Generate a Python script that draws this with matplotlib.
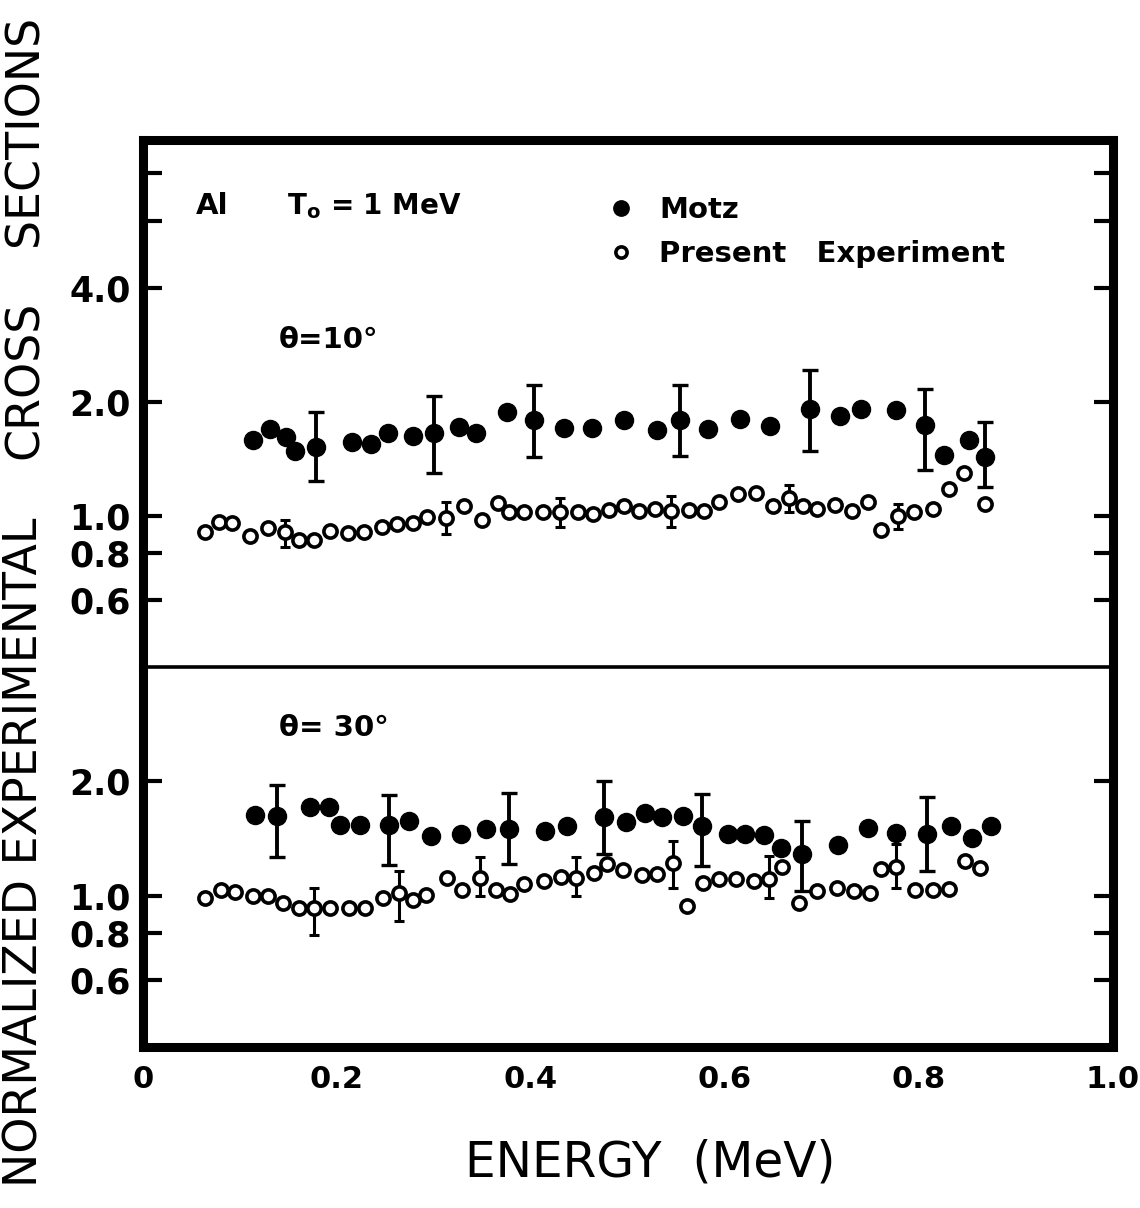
import matplotlib
matplotlib.use('Agg')
import matplotlib.pyplot as plt
import numpy as np
from matplotlib.ticker import FixedLocator, FixedFormatter, NullLocator

# ---- theta = 10 deg ----
e10_motz = [0.113, 0.131, 0.147, 0.157, 0.178, 0.216, 0.235, 0.253, 0.278, 0.300,
            0.326, 0.343, 0.375, 0.403, 0.434, 0.463, 0.496, 0.530, 0.554, 0.583,
            0.615, 0.646, 0.688, 0.719, 0.740, 0.776, 0.806, 0.826, 0.852, 0.868]
v10_motz = [1.59, 1.70, 1.62, 1.48, 1.52, 1.57, 1.55, 1.655, 1.63, 1.655,
            1.715, 1.655, 1.88, 1.79, 1.71, 1.71, 1.79, 1.69, 1.79, 1.70,
            1.80, 1.73, 1.92, 1.84, 1.92, 1.90, 1.74, 1.45, 1.59, 1.43]
err10_motz_idx = [4, 9, 13, 18, 22, 26, 29]
err10_motz_lo = [1.235, 1.30, 1.43, 1.44, 1.48, 1.32, 1.19]
err10_motz_hi = [1.88, 2.07, 2.21, 2.21, 2.42, 2.16, 1.77]

e10_pres = [0.064, 0.078, 0.092, 0.110, 0.129, 0.146, 0.161, 0.176, 0.193, 0.211,
            0.228, 0.246, 0.262, 0.278, 0.293, 0.312, 0.331, 0.350, 0.366, 0.377,
            0.393, 0.412, 0.430, 0.448, 0.464, 0.480, 0.496, 0.511, 0.528, 0.544,
            0.563, 0.578, 0.594, 0.613, 0.632, 0.649, 0.666, 0.680, 0.695, 0.713,
            0.731, 0.747, 0.761, 0.778, 0.795, 0.814, 0.831, 0.846, 0.868]
v10_pres = [0.910, 0.966, 0.959, 0.888, 0.929, 0.906, 0.867, 0.867, 0.915, 0.901,
            0.906, 0.934, 0.953, 0.959, 0.996, 0.986, 1.060, 0.978, 1.081, 1.026,
            1.026, 1.026, 1.022, 1.026, 1.015, 1.039, 1.060, 1.032, 1.047, 1.032,
            1.039, 1.032, 1.086, 1.142, 1.149, 1.064, 1.113, 1.064, 1.043, 1.069,
            1.032, 1.090, 0.921, 1.002, 1.026, 1.047, 1.177, 1.296, 1.075]
err10_pres_idx = [5, 15, 22, 29, 36, 43]
err10_pres_lo = [0.828, 0.897, 0.934, 0.937, 1.026, 0.925]
err10_pres_hi = [0.978, 1.086, 1.119, 1.130, 1.205, 1.075]

# ---- theta = 30 deg ----
e30_motz = [0.115, 0.138, 0.172, 0.192, 0.203, 0.224, 0.254, 0.274, 0.297, 0.328,
            0.354, 0.377, 0.414, 0.437, 0.475, 0.498, 0.518, 0.535, 0.557, 0.576,
            0.603, 0.621, 0.640, 0.658, 0.679, 0.717, 0.747, 0.776, 0.808, 0.833,
            0.855, 0.874]
v30_motz = [1.63, 1.62, 1.71, 1.71, 1.534, 1.534, 1.534, 1.578, 1.435, 1.45,
            1.495, 1.495, 1.479, 1.525, 1.61, 1.566, 1.653, 1.61, 1.62, 1.525,
            1.456, 1.456, 1.444, 1.338, 1.285, 1.359, 1.51, 1.465, 1.456, 1.525,
            1.421, 1.525]
err30_motz_idx = [1, 6, 11, 14, 19, 24, 28]
err30_motz_lo = [1.264, 1.205, 1.21, 1.29, 1.197, 1.03, 1.162]
err30_motz_hi = [1.96, 1.847, 1.866, 2.01, 1.855, 1.578, 1.817]

e30_pres = [0.064, 0.080, 0.095, 0.113, 0.129, 0.144, 0.161, 0.176, 0.193, 0.212,
            0.229, 0.247, 0.264, 0.278, 0.292, 0.313, 0.329, 0.347, 0.364, 0.378,
            0.393, 0.413, 0.431, 0.446, 0.465, 0.478, 0.495, 0.514, 0.530, 0.546,
            0.561, 0.577, 0.594, 0.611, 0.630, 0.645, 0.659, 0.676, 0.695, 0.715,
            0.733, 0.749, 0.761, 0.776, 0.796, 0.814, 0.831, 0.847, 0.863]
v30_pres = [0.989, 1.034, 1.026, 1.0, 1.0, 0.960, 0.931, 0.931, 0.931, 0.931,
            0.931, 0.989, 1.020, 0.973, 1.005, 1.112, 1.034, 1.112, 1.034, 1.013,
            1.076, 1.094, 1.120, 1.116, 1.146, 1.21, 1.166, 1.132, 1.139, 1.222,
            0.940, 1.083, 1.105, 1.105, 1.094, 1.105, 1.19, 0.960, 1.029, 1.046,
            1.029, 1.020, 1.174, 1.19, 1.034, 1.034, 1.040, 1.234, 1.181]
err30_pres_idx = [7, 12, 17, 23, 29, 35, 43]
err30_pres_lo = [0.789, 0.859, 0.999, 0.999, 1.051, 0.985, 1.051]
err30_pres_hi = [1.046, 1.162, 1.264, 1.264, 1.393, 1.272, 1.365]

xticks = [0, 0.2, 0.4, 0.6, 0.8, 1.0]
xticklabels = ['0', '0.2', '0.4', '0.6', '0.8', '1.0']
yticks_top = [0.6, 0.8, 1.0, 2.0, 4.0, 6.0, 8.0]
yticklabels_top = ['0.6', '0.8', '1.0', '2.0', '4.0', '', '']
yticks_bot = [0.6, 0.8, 1.0, 2.0]
yticklabels_bot = ['0.6', '0.8', '1.0', '2.0']


def draw(ax, e_m, v_m, im, lo_m, hi_m, e_p, v_p, ip, lo_p, hi_p):
    e_m = np.array(e_m); v_m = np.array(v_m)
    e_p = np.array(e_p); v_p = np.array(v_p)
    ax.errorbar(e_m[im], v_m[im], yerr=[v_m[im] - np.array(lo_m), np.array(hi_m) - v_m[im]],
                fmt='none', ecolor='k', elinewidth=2.8, capsize=5.5, capthick=2.4, zorder=2)
    ax.errorbar(e_p[ip], v_p[ip], yerr=[v_p[ip] - np.array(lo_p), np.array(hi_p) - v_p[ip]],
                fmt='none', ecolor='k', elinewidth=2.2, capsize=3.8, capthick=2.2, zorder=2)
    l1, = ax.plot(e_m, v_m, 'o', color='k', ms=13, ls='none', zorder=3, label='Motz')
    l2, = ax.plot(e_p, v_p, 'o', mfc='white', mec='k', ms=9.5, mew=2.6, ls='none',
                  zorder=3, label='Present   Experiment')
    return l1, l2


def style(ax, ylim, yt, ytl):
    ax.set_xlim(0, 1.0)
    ax.set_yscale('log')
    ax.set_ylim(*ylim)
    ax.yaxis.set_major_locator(FixedLocator(yt))
    ax.yaxis.set_major_formatter(FixedFormatter(ytl))
    ax.yaxis.set_minor_locator(NullLocator())
    ax.set_xticks(xticks)
    ax.set_xticklabels(xticklabels)
    ax.tick_params(axis='y', which='major', direction='in', left=True, right=True,
                   length=14, width=3, pad=9, labelsize=25)
    ax.tick_params(axis='x', which='major', length=0, pad=13, labelsize=22)
    for lab in ax.get_yticklabels() + ax.get_xticklabels():
        lab.set_fontweight('bold')
    for sp in ax.spines.values():
        sp.set_linewidth(6.5)
        sp.set_capstyle('projecting')


fig = plt.figure(figsize=(11.4, 12.08), dpi=100)
ax1 = fig.add_axes([0.1254, 0.4478, 0.8509, 0.4363])
ax2 = fig.add_axes([0.1254, 0.1333, 0.8509, 0.3145])
ax2.patch.set_visible(False)

h = draw(ax1, e10_motz, v10_motz, err10_motz_idx, err10_motz_lo, err10_motz_hi,
         e10_pres, v10_pres, err10_pres_idx, err10_pres_lo, err10_pres_hi)
draw(ax2, e30_motz, v30_motz, err30_motz_idx, err30_motz_lo, err30_motz_hi,
     e30_pres, v30_pres, err30_pres_idx, err30_pres_lo, err30_pres_hi)

style(ax1, (0.4, 9.8), yticks_top, yticklabels_top)
style(ax2, (0.4, 4.0), yticks_bot, yticklabels_bot)
ax1.tick_params(axis='x', labelbottom=False)
ax1.spines['bottom'].set_linewidth(2.6)
ax2.spines['top'].set_visible(False)

# annotations
ax1.text(0.055, 0.875, 'Al', transform=ax1.transAxes, fontsize=21, fontweight='bold',
         va='center', ha='left')
ax1.text(0.148, 0.875, r'T$_{\mathbf{o}}$ = 1 MeV', transform=ax1.transAxes, fontsize=20,
         fontweight='bold', va='center', ha='left')
ax1.text(0.14, 0.62, 'θ=10°', transform=ax1.transAxes, fontsize=21, fontweight='bold',
         va='center', ha='left')
ax2.text(0.14, 0.84, 'θ= 30°', transform=ax2.transAxes, fontsize=21, fontweight='bold',
         va='center', ha='left')

ax1.legend(handles=list(h), loc='upper left', bbox_to_anchor=(0.478, 0.893),
           frameon=False, prop={'weight': 'bold', 'size': 21},
           handlelength=1.0, handletextpad=0.8, labelspacing=0.55,
           borderpad=0, borderaxespad=0, markerscale=0.85)

fig.text(0.570, 0.0373, 'ENERGY  (MeV)', fontsize=35, ha='center', va='center')
fig.text(0.022, 0.2947, 'NORMALIZED EXPERIMENTAL', fontsize=33, rotation=90,
         ha='center', va='center')
fig.text(0.022, 0.6854, 'CROSS', fontsize=33, rotation=90, ha='center', va='center')
fig.text(0.022, 0.8924, 'SECTIONS', fontsize=33, rotation=90, ha='center', va='center')

fig.savefig('out.png', dpi=100, facecolor='white')
